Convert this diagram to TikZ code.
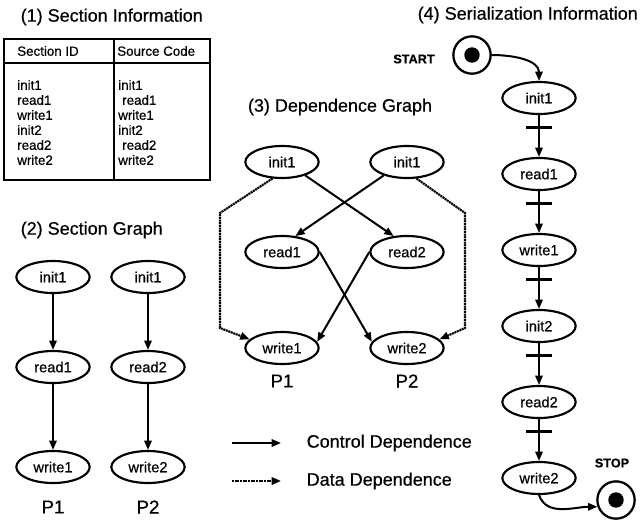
\documentclass[tikz,border=0pt]{standalone}
\usepackage{fontspec}
\setmainfont{Liberation Sans}[FakeBold=0.5]
\usetikzlibrary{arrows.meta,shapes.geometric}

\tikzset{
    sect/.style={draw, ellipse, line width=1.6pt, minimum width=55pt,
        minimum height=24pt, inner sep=0pt, font=\fontsize{11}{13}\selectfont},
    ctrl/.style={-{Triangle[length=7pt,width=5.5pt]}, line width=1.5pt},
    data/.style={-{Triangle[length=7pt,width=5.5pt]}, line width=1.6pt,
        dash pattern=on 1.5pt off 0.5pt},
    bar/.style={line width=1.8pt},
    ttl/.style={font=\fontsize{13.5}{16}\selectfont},
    cell/.style={anchor=west, inner sep=0pt, font=\fontsize{10}{12}\selectfont},
    proc/.style={font=\fontsize{14}{16}\selectfont},
    endlabel/.style={font=\bfseries\fontsize{9.5}{11}\selectfont},
    endc/.style={draw, circle, line width=1.7pt, minimum size=28pt, inner sep=0pt,
        path picture={\fill (path picture bounding box.center) circle (5.8pt);}}
}

\begin{document}
\begin{tikzpicture}[x=0.75pt, y=-0.75pt]
    \useasboundingbox (0,0) rectangle (641,521);

    % (1) table
    \node[ttl, anchor=west] (t1) at (16,17) {(1) Section Information};
    \draw[line width=1.5pt] (4,39) rectangle (210,180);
    \draw[line width=2.2pt] (4,63) -- (210,63);
    \draw[line width=1.5pt] (114,39) -- (114,180);
    \node[cell] (hid) at (17,51) {Section ID};
    \node[cell] (hsrc) at (117,51) {Source Code};
    \foreach \t/\d [count=\k] in {init1/0,read1/4,write1/0,init2/0,read2/4,write2/0} {
        \node[cell] (id\k) at (17,70+15*\k) {\t};
        \node[cell] (src\k) at (118+\d,70+15*\k) {\t};
    }

    % (2) section graph
    \node[ttl, anchor=west] (t2) at (16,230) {(2) Section Graph};
    \node[sect] (ai) at (53,277) {init1};
    \node[sect] (ar) at (53,367) {read1};
    \node[sect] (aw) at (53,467) {write1};
    \node[sect] (bi) at (148,277) {init1};
    \node[sect] (br) at (148,367) {read2};
    \node[sect] (bw) at (148,467) {write2};
    \draw[ctrl] (ai) -- (ar);
    \draw[ctrl] (ar) -- (aw);
    \draw[ctrl] (bi) -- (br);
    \draw[ctrl] (br) -- (bw);
    \node[proc] (pa) at (53,507) {P1};
    \node[proc] (pb) at (148,507) {P2};

    % (3) dependence graph
    \node[ttl] (t3) at (340,107) {(3) Dependence Graph};
    \node[sect] (di1) at (282,162) {init1};
    \node[sect] (di2) at (407,162) {init1};
    \node[sect] (dr1) at (282,252) {read1};
    \node[sect] (dr2) at (407,252) {read2};
    \node[sect] (dw1) at (282,348) {write1};
    \node[sect] (dw2) at (407,348) {write2};
    \draw[ctrl] (di1.-30) -- (dr2.130);
    \draw[ctrl] (di2.-150) -- (dr1.50);
    \draw[ctrl] (dr1.east) -- (dw2.170);
    \draw[ctrl] (dr2.west) -- (dw1.10);
    \draw[data] (di1.-120) -- (220,213) -- (220,328) -- (dw1.165);
    \draw[data] (di2.-60) -- (465,213) -- (465,328) -- (dw2.15);
    \node[proc] (pc) at (282,381) {P1};
    \node[proc] (pd) at (407,381) {P2};

    % legend
    \coordinate (lc1) at (232,443);
    \coordinate (lc2) at (281,443);
    \coordinate (ld1) at (232,481);
    \coordinate (ld2) at (281,481);
    \draw[ctrl] (lc1) -- (lc2);
    \draw[data] (ld1) -- (ld2);
    \node[ttl, anchor=west] (lc) at (302,443) {Control Dependence};
    \node[ttl, anchor=west] (ld) at (302,481) {Data Dependence};

    % (4) serialization
    \node[ttl, anchor=west] (t4) at (413,15) {(4) Serialization Information};
    \node[endc] (st) at (472,55) {};
    \node[endlabel] (stl) at (414,59) {START};
    \foreach \t [count=\k] in {init1,read1,write1,init2,read2,write2}
        \node[sect] (c\k) at (539,98+76*\k-76) {\t};
    \foreach \a/\b in {1/2,2/3,3/4,4/5,5/6} {
        \draw[ctrl] (c\a) -- coordinate[pos=0.3] (k\a) (c\b);
        \draw[bar] ([xshift=-9.4pt]k\a) -- ([xshift=9.4pt]k\a);
    }
    \draw[ctrl] (st.east) to[out=0, in=90] (c1.north);
    \node[endc] (sp) at (616,500) {};
    \node[endlabel] (spl) at (612,463) {STOP};
    \draw[ctrl] (c6.south) to[out=-70, in=180] (sp.200);
\end{tikzpicture}
\end{document}
